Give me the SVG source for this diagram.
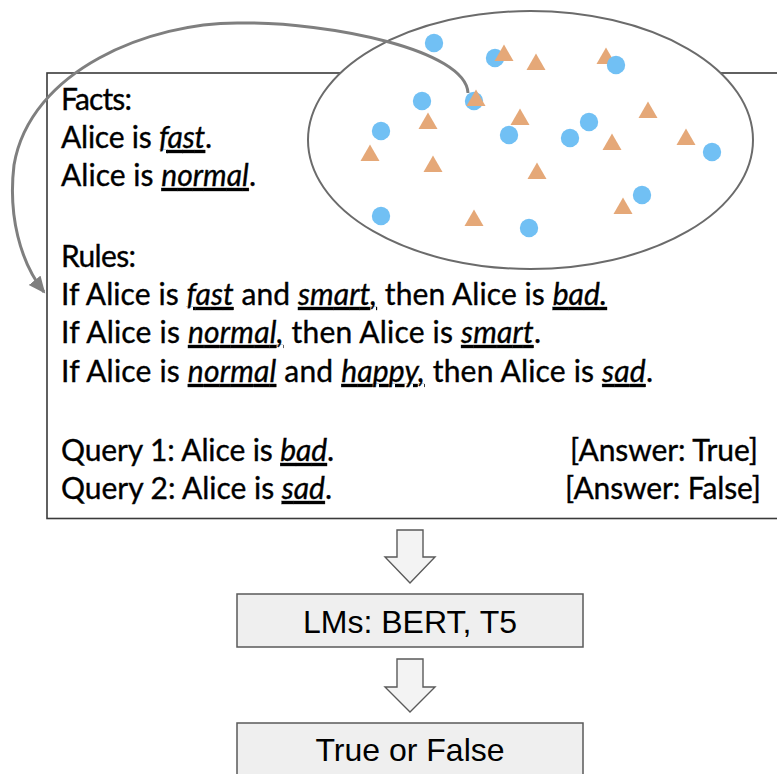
<svg xmlns="http://www.w3.org/2000/svg" width="777" height="774" viewBox="0 0 777 774">
<style>
.t{font-family:Lato,"Liberation Sans",sans-serif;font-size:30px;fill:#000;stroke:#000;stroke-width:0.35}
.u{font-style:italic;text-decoration:underline}
.c{fill:#71C0F4}
.tri{fill:#E5A878}
.blk{fill:#F3F3F3;stroke:#5a5a5a;stroke-width:1.4}
.box{fill:#EFEFEF;stroke:#5a5a5a;stroke-width:1.5}
.bt{font-family:"Liberation Sans",Arial,sans-serif;font-size:32px;fill:#000;text-anchor:middle}
</style>
<defs>
<path id="tr" d="M0,-8.5 L9.5,8 L-9.5,8 Z"/>
<marker id="ah" markerUnits="userSpaceOnUse" markerWidth="18" markerHeight="16" refX="15" refY="7.5" orient="auto">
<path d="M0,0 L17,7.5 L0,15 Z" fill="#7f7f7f"/>
</marker>
</defs>
<rect width="777" height="774" fill="#fff"/>
<g id="context">
<rect x="47" y="73" width="745" height="445.5" fill="#fff" stroke="#3a3a3a" stroke-width="1.6"/>
<text class="t" x="61" y="110" textLength="71">Facts:</text>
<text class="t" x="61" y="148" textLength="151">Alice is <tspan class="u">fast</tspan>.</text>
<text class="t" x="61" y="186" textLength="195">Alice is <tspan class="u">normal</tspan>.</text>
<text class="t" x="61" y="267" textLength="75">Rules:</text>
<text class="t" x="61" y="305" textLength="546">If Alice is <tspan class="u">fast</tspan> and <tspan class="u">smart,</tspan> then Alice is <tspan class="u">bad.</tspan></text>
<text class="t" x="61" y="343" textLength="480">If Alice is <tspan class="u">normal,</tspan> then Alice is <tspan class="u">smart</tspan>.</text>
<text class="t" x="61" y="382" textLength="592">If Alice is <tspan class="u">normal</tspan> and <tspan class="u">happy,</tspan> then Alice is <tspan class="u">sad</tspan>.</text>
<text class="t" x="61" y="461" textLength="273">Query 1: Alice is <tspan class="u">bad</tspan>.</text>
<text class="t" x="61" y="499" textLength="271">Query 2: Alice is <tspan class="u">sad</tspan>.</text>
<text class="t" x="570" y="461" textLength="188">[Answer: True]</text>
<text class="t" x="565" y="499" textLength="196">[Answer: False]</text>
</g>
<g id="space">
<ellipse cx="530.5" cy="140" rx="222.5" ry="129" fill="#fff" stroke="#6b6b6b" stroke-width="2"/>
<use href="#tr" x="606" y="56" class="tri"/>
<circle class="c" cx="434" cy="43" r="9.2"/>
<circle class="c" cx="495" cy="58" r="9.2"/>
<circle class="c" cx="616" cy="65" r="9.2"/>
<circle class="c" cx="422" cy="101" r="9.2"/>
<circle class="c" cx="474" cy="101" r="9.2"/>
<circle class="c" cx="381" cy="131" r="9.2"/>
<circle class="c" cx="509" cy="135" r="9.2"/>
<circle class="c" cx="589" cy="122" r="9.2"/>
<circle class="c" cx="570" cy="138" r="9.2"/>
<circle class="c" cx="712" cy="152" r="9.2"/>
<circle class="c" cx="642" cy="195" r="9.2"/>
<circle class="c" cx="381" cy="216" r="9.2"/>
<circle class="c" cx="529" cy="228" r="9.2"/>
</g>
<g id="connectors">
<path d="M468,93 C466,50 330,22 240,23 C150,22 30,70 14,165 C8,215 20,262 44,292" fill="none" stroke="#7f7f7f" stroke-width="3" marker-end="url(#ah)"/>
<path class="blk" d="M397,530 H423 V557 H435 L410,583 L385,557 H397 Z"/>
<path class="blk" d="M397,659 H423 V687 H435 L410,712 L385,687 H397 Z"/>
</g>
<g id="space-triangles">
<use href="#tr" x="504" y="53" class="tri"/>
<use href="#tr" x="536" y="62" class="tri"/>
<use href="#tr" x="476" y="98" class="tri"/>
<use href="#tr" x="428" y="121" class="tri"/>
<use href="#tr" x="520" y="117" class="tri"/>
<use href="#tr" x="648" y="110" class="tri"/>
<use href="#tr" x="370" y="153" class="tri"/>
<use href="#tr" x="612" y="142" class="tri"/>
<use href="#tr" x="686" y="137" class="tri"/>
<use href="#tr" x="433" y="164" class="tri"/>
<use href="#tr" x="537" y="171" class="tri"/>
<use href="#tr" x="623" y="206" class="tri"/>
<use href="#tr" x="474" y="218" class="tri"/>
</g>
<g id="lms">
<rect class="box" x="237" y="594" width="346" height="53"/>
<text class="bt" x="410" y="633">LMs: BERT, T5</text>
</g>
<g id="output">
<rect class="box" x="237" y="723" width="346" height="60"/>
<text class="bt" x="410" y="761">True or False</text>
</g>
</svg>
